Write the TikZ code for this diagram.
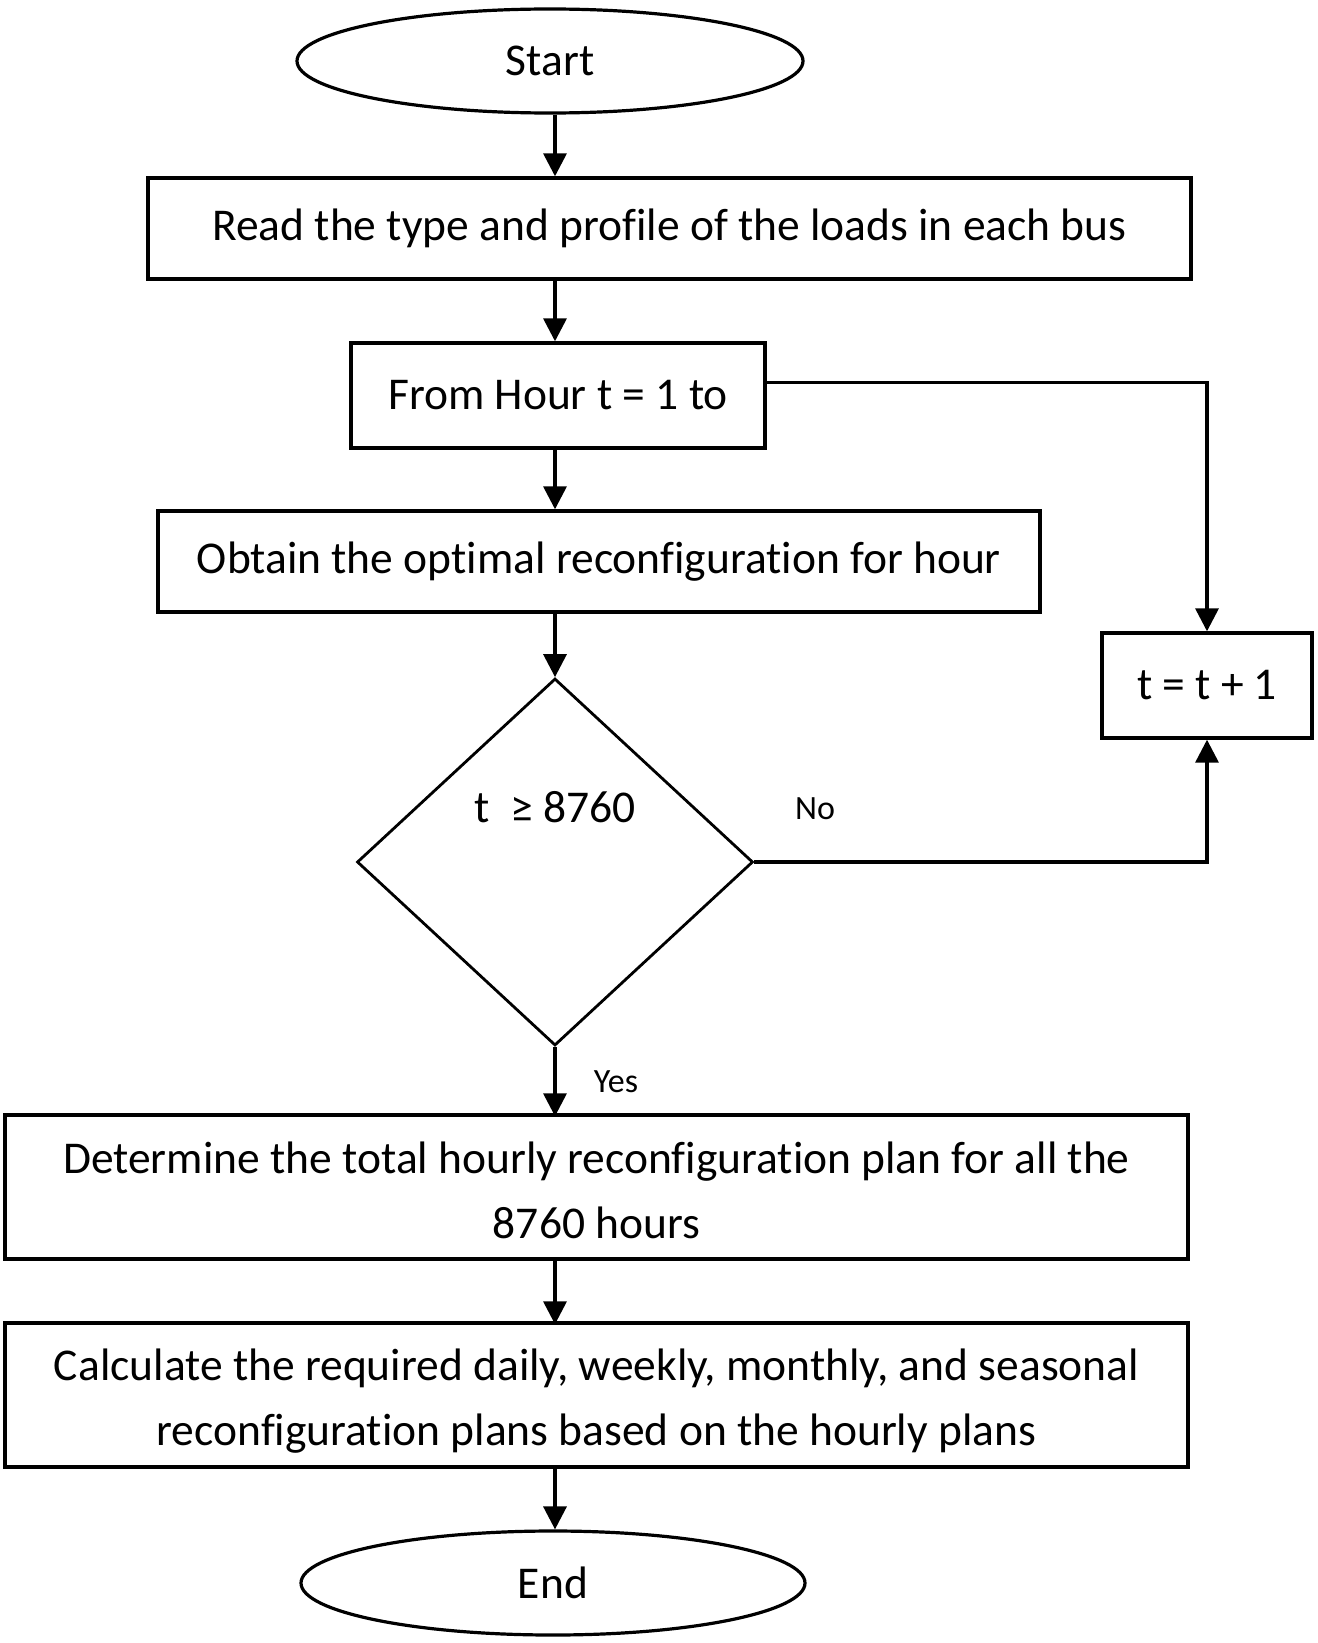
\documentclass[tikz,border=0pt]{standalone}
\usepackage{fontspec}
\setmainfont[Ligatures=NoCommon]{Carlito}
\usetikzlibrary{shapes.geometric,arrows.meta}
\begin{document}
\begin{tikzpicture}[x=1pt,y=-1pt,
  every node/.style={font=\fontsize{45.5}{65}\selectfont},
  boxn/.style={draw,line width=3.4pt,rectangle,inner sep=0pt,align=center},
  term/.style={draw,line width=3.2pt,ellipse,inner sep=0pt},
  arr/.style={line width=3.4pt,-{Triangle[length=23pt,width=23pt]}},
  txt/.style={inner sep=0pt,align=center},
  lbl/.style={font=\fontsize{34}{40}\selectfont,inner sep=0pt}]
\useasboundingbox (0,0) rectangle (1317,1643);
\coordinate (spine) at (555,0);
\node[term,minimum width=506pt,minimum height=104pt] (start) at (550,61) {Start};
\node[boxn,minimum width=1043pt,minimum height=101pt] (b1) at (669.5,228.5) {Read the type and profile of the loads in each bus};
\node[boxn,minimum width=414pt,minimum height=105pt] (b2) at (558,395.5) {From Hour t = 1 to};
\node[boxn,minimum width=882pt,minimum height=101pt] (b3) at (599,561.5) {Obtain the optimal reconfiguration for hour};
\node[draw,line width=2.8pt,diamond,inner sep=0pt,aspect=1.08,minimum width=396pt,minimum height=367pt] (dia) at (555,862) {};
\node (cond) at (555,807) {t~~≥~8760};
\node[boxn,minimum width=210pt,minimum height=105pt] (tb) at (1207,685.5) {t = t + 1};
\node[boxn,minimum width=1183pt,minimum height=144pt] (b4) at (596.5,1187) {};
\node[txt] (b4t) at ([yshift=-3pt]b4.center) {Determine the total hourly reconfiguration plan for all the\\8760 hours};
\node[boxn,minimum width=1183pt,minimum height=144pt] (b5) at (596.5,1395) {};
\node[txt] (b5t) at ([yshift=-6pt]b5.center) {Calculate the required daily, weekly, monthly, and seasonal\\reconfiguration plans based on the hourly plans};
\node[term,minimum width=504pt,minimum height=104pt] (end) at (553,1583) {End};
\node[lbl] (no) at (815,809) {No};
\node[lbl] (yes) at (616,1082) {Yes};
\draw[arr] (start.south -| spine) -- (b1.north -| spine);
\draw[arr] (b1.south -| spine) -- (b2.north -| spine);
\draw[arr] (b2.south -| spine) -- (b3.north -| spine);
\draw[arr] (b3.south -| spine) -- (dia.north);
\draw[arr] (dia.south) -- ([yshift=-3pt]b4.north -| spine);
\draw[arr] (b4.south -| spine) -- ([yshift=-3pt]b5.north -| spine);
\draw[arr] (b5.south -| spine) -- (end.north -| spine);
\draw[arr] ([yshift=13pt]b2.east) -| (tb.north);
\draw[arr] (dia.east) -| (tb.south);
\end{tikzpicture}
\end{document}
